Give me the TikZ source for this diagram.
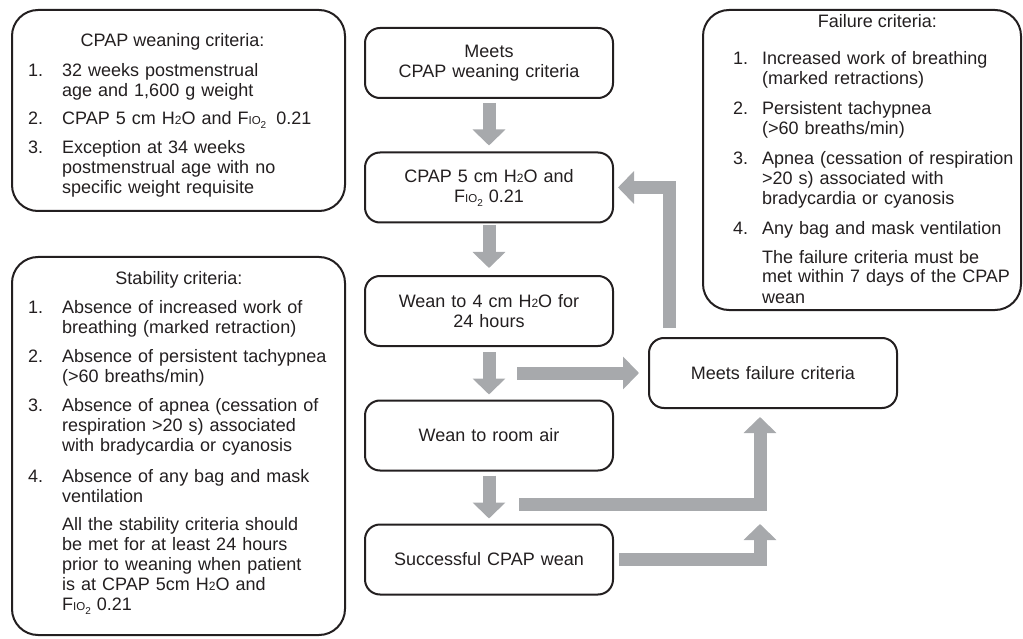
\documentclass[tikz,border=0pt]{standalone}
\usepackage{fontspec}
\setmainfont{Liberation Sans}
\usetikzlibrary{arrows.meta}
\definecolor{arrowgray}{HTML}{A7A9AC}
\definecolor{ink}{HTML}{231F20}
\newcommand{\bodyfont}{\fontsize{18}{20}\selectfont}
\newcommand{\HtwoO}{H{\fontsize{12}{12}\selectfont 2}O}
\newcommand{\FIOtwo}{F{\fontsize{11.5}{12}\selectfont IO\raisebox{-4pt}{\fontsize{10}{10}\selectfont 2}}}
\begin{document}
\begin{tikzpicture}[x=1pt,y=-1pt,
  critbox/.style={draw=ink, line width=2pt, rounded corners=26pt, fill=white, inner sep=0pt},
  flowbox/.style={draw=ink, line width=2pt, rounded corners=15pt, fill=white,
    minimum width=248pt, minimum height=70pt, text width=240pt, align=center,
    font=\bodyfont, text=ink, inner sep=0pt},
  crittext/.style={anchor=base west, inner sep=0pt, font=\bodyfont, text=ink,
    align=left, text width=300pt},
  crittitle/.style={anchor=base, inner sep=0pt, font=\bodyfont, text=ink},
  blockarrow/.style={draw=arrowgray, line width=13pt, line join=miter,
    -{Triangle[width=32pt,length=16pt]}}
]
\useasboundingbox (0,0) rectangle (1023,639);

% criteria boxes
\node[critbox, minimum width=333pt, minimum height=201pt] (wbox) at (178.5,110.5) {};
\node[critbox, minimum width=333pt, minimum height=378pt] (sbox) at (178.5,446) {};
\node[critbox, minimum width=318pt, minimum height=300pt] (fbox) at (862,160) {};

% CPAP weaning criteria
\node[crittitle] (wt) at (172.5,47) {CPAP weaning criteria:};
\node[crittext] (wn1) at (28,77) {1.};
\node[crittext] (wi1) at (62,77) {32 weeks postmenstrual\\age and 1,600 g weight};
\node[crittext] (wn2) at (28,125) {2.};
\node[crittext] (wi2) at (62,125) {CPAP 5 cm \HtwoO{} and \FIOtwo\hspace{4pt} 0.21};
\node[crittext] (wn3) at (28,154) {3.};
\node[crittext] (wi3) at (62,154) {Exception at 34 weeks\\postmenstrual age with no\\specific weight requisite};

% Stability criteria
\node[crittitle] (st) at (179,284) {Stability criteria:};
\node[crittext] (sn1) at (28,313) {1.};
\node[crittext] (si1) at (62,313) {Absence of increased work of\\breathing (marked retraction)};
\node[crittext] (sn2) at (28,362) {2.};
\node[crittext] (si2) at (62,362) {Absence of persistent tachypnea\\(>60 breaths/min)};
\node[crittext] (sn3) at (28,411) {3.};
\node[crittext] (si3) at (62,411) {Absence of apnea (cessation of\\respiration >20 s) associated\\with bradycardia or cyanosis};
\node[crittext] (sn4) at (28,482) {4.};
\node[crittext] (si4) at (62,482) {Absence of any bag and mask\\ventilation};
\node[crittext] (sp) at (62,530) {All the stability criteria should\\be met for at least 24 hours\\prior to weaning when patient\\is at CPAP 5cm \HtwoO{} and\\\FIOtwo{} 0.21};

% Failure criteria
\node[crittitle] (ft) at (877.5,28) {Failure criteria:};
\node[crittext] (fn1) at (733,65) {1.};
\node[crittext] (fi1) at (762,65) {Increased work of breathing\\(marked retractions)};
\node[crittext] (fn2) at (733,115) {2.};
\node[crittext] (fi2) at (762,115) {Persistent tachypnea\\(>60 breaths/min)};
\node[crittext] (fn3) at (733,165) {3.};
\node[crittext] (fi3) at (762,165) {Apnea (cessation of respiration\\>20 s) associated with\\bradycardia or cyanosis};
\node[crittext] (fn4) at (733,235) {4.};
\node[crittext] (fi4) at (762,235) {Any bag and mask ventilation};
\node[crittext] (fp) at (762,263) {The failure criteria must be\\met within 7 days of the CPAP\\wean};

% flow boxes
\node[flowbox] (meets) at (489,63) {Meets\\CPAP weaning criteria};
\node[flowbox] (cpap5) at (489,187.5) {CPAP 5 cm \HtwoO{} and\\\FIOtwo{} 0.21};
\node[flowbox] (wean4) at (489,311) {Wean to 4 cm \HtwoO{} for\\24 hours};
\node[flowbox] (room) at (489,435.5) {Wean to room air};
\node[flowbox] (succ) at (489,559.5) {Successful CPAP wean};
\node[flowbox] (fail) at (773,373) {Meets failure criteria};

% arrows
\draw[blockarrow, shorten <=4pt, shorten >=6pt] (meets.south) -- (cpap5.north);
\draw[blockarrow, shorten <=2pt, shorten >=7pt] (cpap5.south) -- (wean4.north);
\draw[blockarrow, shorten <=5pt, shorten >=5pt] (wean4.south) -- (room.north);
\draw[blockarrow, shorten <=4pt, shorten >=5pt] (room.south) -- (succ.north);

\coordinate (h1) at (517,373);
\draw[blockarrow, shorten >=9pt] (h1) -- (fail.west);
\draw[blockarrow, shorten <=9pt, shorten >=4pt] ([xshift=21pt]fail.north west) |- (cpap5.east);
\coordinate (h2) at (519,504);
\draw[blockarrow, shorten >=8pt] (h2) -| ([xshift=-13pt]fail.south);
\coordinate (h3) at (760,524);
\draw[blockarrow, shorten <=5pt] (succ.east) -| (h3);
\end{tikzpicture}
\end{document}
